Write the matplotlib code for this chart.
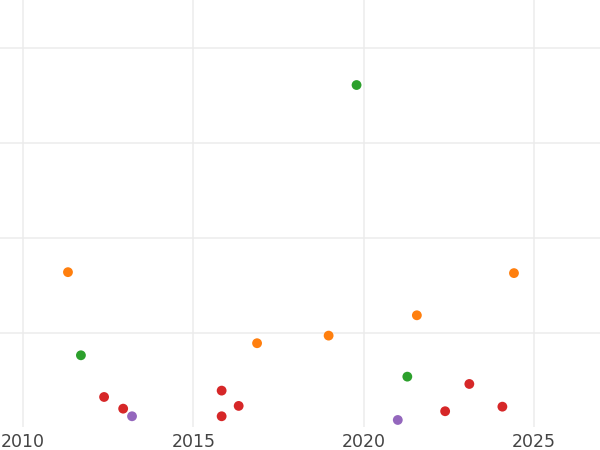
import matplotlib
matplotlib.use('Agg')
import matplotlib.pyplot as plt
import numpy as np

# data
years = [2011.32, 2011.70, 2012.38, 2012.94, 2013.20, 2015.83, 2016.33, 2015.83,
         2016.87, 2018.97, 2019.79, 2021.00, 2021.28, 2021.56, 2022.39, 2023.10,
         2024.07, 2024.41]
values = [16.4, 7.65, 3.26, 2.03, 1.23, 3.93, 2.32, 1.23,
          8.92, 9.72, 36.1, 0.84, 5.4, 11.86, 1.76, 4.63,
          2.24, 16.3]
groups = ['orange', 'green', 'red', 'red', 'purple', 'red', 'red', 'red',
          'orange', 'orange', 'green', 'purple', 'green', 'orange', 'red', 'red',
          'red', 'orange']
palette = {'orange': '#ff7f0e', 'green': '#2ca02c', 'red': '#d62728', 'purple': '#9467bd'}
xticks = [2010, 2015, 2020, 2025]
yticks = [10, 20, 30, 40]

fig = plt.figure(figsize=(6, 4.5), dpi=100)
ax = fig.add_axes([0, 23 / 450, 1, 427 / 450])

ax.scatter(years, values, c=[palette[g] for g in groups], s=50, linewidths=0, zorder=3)

ax.set_xlim(2009.325, 2026.935)
ax.set_ylim(0.1, 45.05)
ax.set_xticks(xticks)
ax.set_xticklabels([str(t) for t in xticks])
ax.set_yticks(yticks)
ax.set_yticklabels([])
ax.grid(True, color='#ececec', linewidth=1.1, zorder=0)
ax.set_axisbelow(True)
for side in ax.spines.values():
    side.set_visible(False)
ax.tick_params(axis='both', length=0)
ax.tick_params(axis='x', labelsize=12.5, labelcolor='#444444', pad=4)

plt.savefig('out.png', dpi=100)
